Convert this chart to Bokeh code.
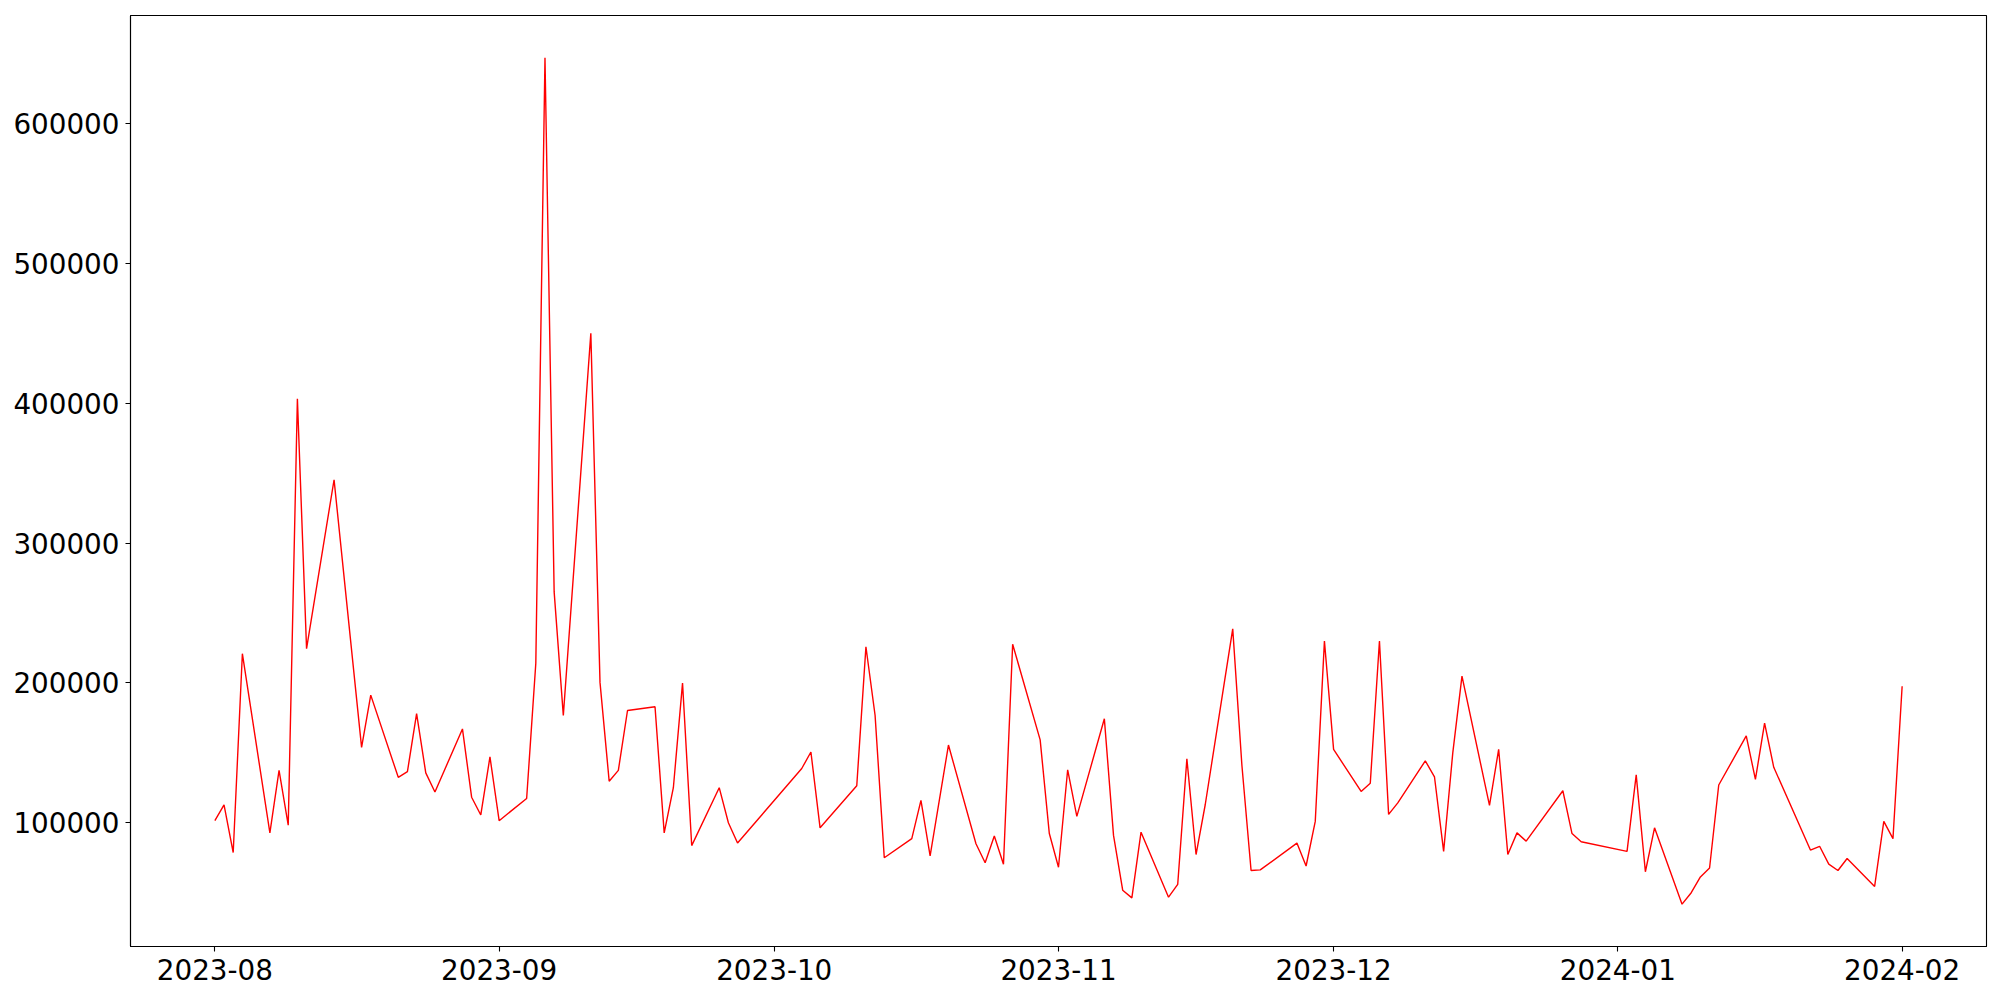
import pandas as pd
from bokeh.plotting import figure
from bokeh.models import Range1d, FixedTicker, DatetimeTickFormatter, BasicTickFormatter
from bokeh.embed import file_html
from bokeh.resources import INLINE

# ---- data ----
dates = [
    "2023-08-01", "2023-08-02", "2023-08-03", "2023-08-04", "2023-08-07", "2023-08-08",
    "2023-08-09", "2023-08-10", "2023-08-11", "2023-08-14", "2023-08-17", "2023-08-18",
    "2023-08-21", "2023-08-22", "2023-08-23", "2023-08-24", "2023-08-25", "2023-08-28",
    "2023-08-29", "2023-08-30", "2023-08-31", "2023-09-01", "2023-09-04", "2023-09-05",
    "2023-09-06", "2023-09-07", "2023-09-08", "2023-09-11", "2023-09-12", "2023-09-13",
    "2023-09-14", "2023-09-15", "2023-09-18", "2023-09-19", "2023-09-20", "2023-09-21",
    "2023-09-22", "2023-09-25", "2023-09-26", "2023-09-27", "2023-10-04", "2023-10-05",
    "2023-10-06", "2023-10-10", "2023-10-11", "2023-10-12", "2023-10-13", "2023-10-16",
    "2023-10-17", "2023-10-18", "2023-10-20", "2023-10-23", "2023-10-24", "2023-10-25",
    "2023-10-26", "2023-10-27", "2023-10-30", "2023-10-31", "2023-11-01", "2023-11-02",
    "2023-11-03", "2023-11-06", "2023-11-07", "2023-11-08", "2023-11-09", "2023-11-10",
    "2023-11-13", "2023-11-14", "2023-11-15", "2023-11-16", "2023-11-17", "2023-11-20",
    "2023-11-21", "2023-11-22", "2023-11-23", "2023-11-27", "2023-11-28", "2023-11-29",
    "2023-11-30", "2023-12-01", "2023-12-04", "2023-12-05", "2023-12-06", "2023-12-07",
    "2023-12-08", "2023-12-11", "2023-12-12", "2023-12-13", "2023-12-14", "2023-12-15",
    "2023-12-18", "2023-12-19", "2023-12-20", "2023-12-21", "2023-12-22", "2023-12-26",
    "2023-12-27", "2023-12-28", "2024-01-02", "2024-01-03", "2024-01-04", "2024-01-05",
    "2024-01-08", "2024-01-09", "2024-01-10", "2024-01-11", "2024-01-12", "2024-01-15",
    "2024-01-16", "2024-01-17", "2024-01-18", "2024-01-22", "2024-01-23", "2024-01-24",
    "2024-01-25", "2024-01-26", "2024-01-29", "2024-01-30", "2024-01-31", "2024-02-01",
]

values = [
    101500, 112800, 78700, 220900, 92800, 137500,
    98300, 403200, 224500, 345300, 153900, 191300,
    132500, 136600, 178100, 135700, 122000, 167100,
    118300, 105600, 147100, 101500, 117400, 214100,
    647000, 265100, 176700, 450100, 200400, 129700,
    137500, 180300, 183000, 92800, 125100, 199900,
    83700, 125100, 100000, 85500, 138800, 150600,
    96400, 126500, 225900, 176700, 75000, 88700,
    116000, 76300, 155600, 85000, 71400, 90500,
    70400, 227700, 159300, 92300, 68200, 137900,
    104600, 174400, 91000, 51800, 46300, 93300,
    46800, 55900, 145700, 77300, 112900, 238700,
    141100, 65900, 66300, 85500, 69100, 101000,
    230000, 152500, 122400, 128300, 230000, 106000,
    114200, 144300, 132900, 79600, 150200, 204900,
    112400, 152500, 77300, 92800, 86900, 122900,
    92300, 86400, 79600, 134300, 65000, 96400,
    41800, 50000, 61300, 67700, 127000, 162100,
    131100, 171200, 139700, 80500, 83200, 70400,
    65900, 74500, 54500, 101000, 88700, 197600,
]

x_tick_dates = ["2023-08-01", "2023-09-01", "2023-10-01", "2023-11-01",
                "2023-12-01", "2024-01-01", "2024-02-01"]
y_ticks = [100000, 200000, 300000, 400000, 500000, 600000]

# ---- build ----
x = pd.to_datetime(dates)
span = x.max() - x.min()
x0 = x.min() - 0.05 * span
x1 = x.max() + 0.05 * span
vmin, vmax = min(values), max(values)
vr = vmax - vmin

p = figure(
    output_backend="svg", toolbar_location=None,
    frame_width=1856, frame_height=931,
    min_border_left=130, min_border_right=6, min_border_top=15, min_border_bottom=46,
    x_axis_type="datetime",
    x_range=Range1d(x0, x1),
    y_range=Range1d(vmin - 0.05 * vr, vmax + 0.05 * vr),
    background_fill_color="white", border_fill_color="white",
)

p.line(x=x, y=values, line_color="red", line_width=1.4)

p.xgrid.visible = False
p.ygrid.visible = False
p.outline_line_color = "black"
p.outline_line_width = 1.1

x_ticks_ms = [pd.Timestamp(d).value / 1e6 for d in x_tick_dates]
p.xaxis.ticker = FixedTicker(ticks=x_ticks_ms)
fmt = "%Y-%m"
p.xaxis.formatter = DatetimeTickFormatter(
    milliseconds=fmt, seconds=fmt, minsec=fmt, minutes=fmt, hourmin=fmt,
    hours=fmt, days=fmt, months=fmt, years=fmt)
p.yaxis.ticker = FixedTicker(ticks=y_ticks)
p.yaxis.formatter = BasicTickFormatter(use_scientific=False)

for ax in (p.xaxis[0], p.yaxis[0]):
    ax.axis_line_color = "black"
    ax.axis_line_width = 1.1
    ax.major_tick_line_color = "black"
    ax.major_tick_line_width = 1.1
    ax.major_tick_in = 0
    ax.major_tick_out = 5
    ax.minor_tick_line_color = None
    ax.major_label_text_font = "DejaVu Sans"
    ax.major_label_text_font_size = "27.8px"
    ax.major_label_text_color = "black"

p.xaxis.major_label_standoff = 7
p.yaxis.major_label_standoff = 6

open("out.html", "w").write(file_html(p, INLINE))
